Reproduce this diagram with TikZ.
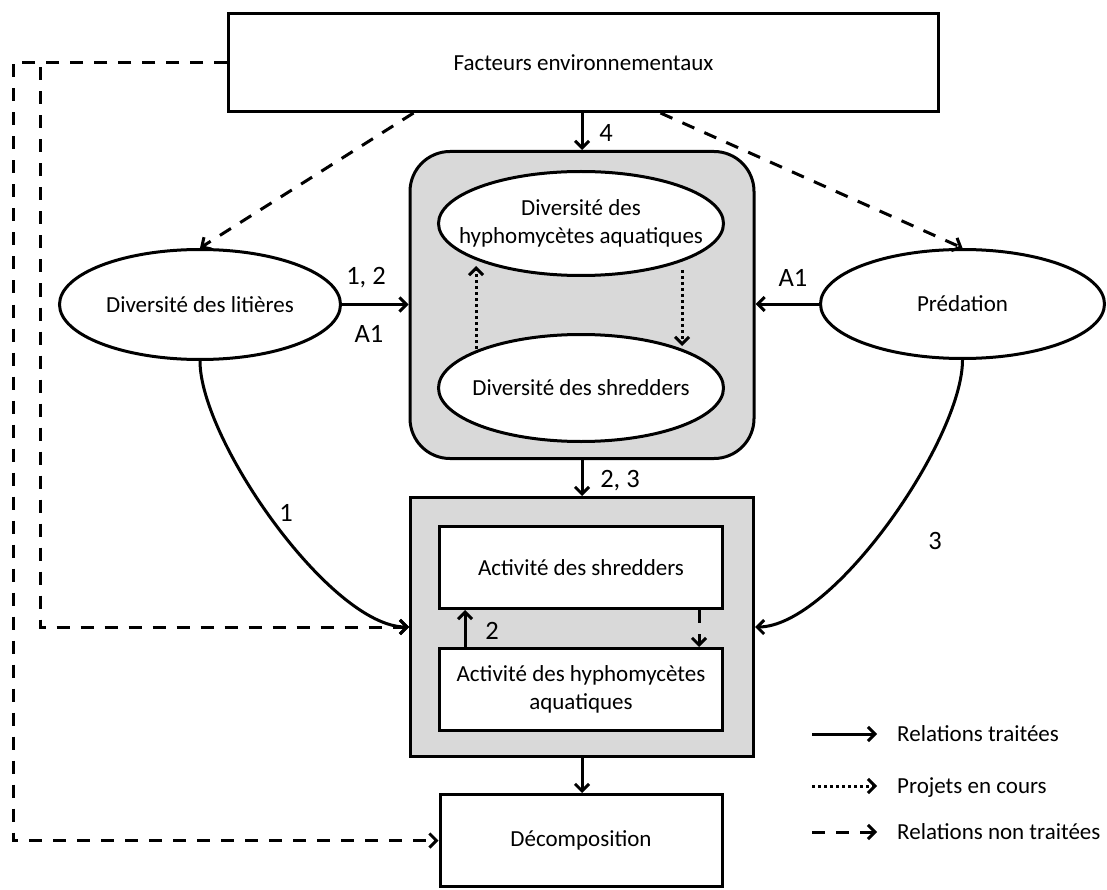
\documentclass[tikz,border=0pt]{standalone}
\usepackage{fontspec}
\setmainfont{Carlito}
\usetikzlibrary{arrows.meta,shapes.geometric}
\definecolor{boxgray}{HTML}{D9D9D9}
\tikzset{
  txt/.style={font=\fontsize{23}{27.5}\selectfont, align=center, inner sep=0pt},
  base/.style={draw, line width=3pt, txt},
  rbox/.style={base, rectangle, fill=white},
  ell/.style={base, ellipse, fill=white},
  grp/.style={base, rectangle, fill=boxgray},
  lbl/.style={font=\fontsize{26.5}{30}\selectfont, inner sep=0pt},
  leg/.style={font=\fontsize{23}{27}\selectfont, inner sep=0pt, anchor=base west},
  solidarrow/.style={line width=3pt, -{Straight Barb[length=7pt,width=14pt]}},
  dashedarrow/.style={solidarrow, dash pattern=on 13pt off 11pt},
  dottedarrow/.style={solidarrow, dash pattern=on 3pt off 3pt},
}
\begin{document}
\begin{tikzpicture}[x=1pt,y=-1pt]
\useasboundingbox (0,0) rectangle (1107,890);

% nodes
\node[rbox, minimum width=710pt, minimum height=98pt] (fact) at (583.5,62.5) {Facteurs environnementaux};
\node[ell, minimum width=281pt, minimum height=110pt] (lit) at (200,304.5) {};
\node[txt] (litT) at (lit.center) {Diversité des litières};
\node[ell, minimum width=284pt, minimum height=109pt] (pred) at (962.5,304) {};
\node[txt] (predT) at (pred.center) {Prédation};
\node[grp, rounded corners=40pt, minimum width=344pt, minimum height=307pt] (div) at (582,305) {};
\node[ell, minimum width=285pt, minimum height=104pt] (hyph) at (581,223.5) {};
\node[txt] (hyphT) at (hyph.center) {Diversité des\\hyphomycètes aquatiques};
\node[ell, minimum width=285pt, minimum height=107pt] (shred) at (581,388) {};
\node[txt] (shredT) at (shred.center) {Diversité des shredders};
\node[grp, minimum width=343pt, minimum height=259pt] (act) at (582,627) {};
\node[rbox, minimum width=283pt, minimum height=82pt] (shA) at (581,567.5) {Activité des shredders};
\node[rbox, minimum width=283pt, minimum height=82pt] (hypA) at (581,689.5) {Activité des hyphomycètes\\aquatiques};
\node[rbox, minimum width=282pt, minimum height=92pt] (dec) at (581,840.5) {Décomposition};

% solid connectors
\draw[solidarrow] (fact.south -| div.north) -- (div.north);
\draw[solidarrow] (lit.east) -- (div.west |- lit.east);
\draw[solidarrow] (pred.west) -- (div.east |- pred.west);
\draw[solidarrow] (div.south) -- (act.north);
\draw[solidarrow] (act.south) -- (act.south |- dec.north);
\draw[solidarrow] (lit.south) .. controls +(0,79) and +(-78,0) .. (act.west);
\draw[solidarrow] (pred.south) .. controls +(0,79) and +(78,0) .. (act.east);
\draw[solidarrow] ([xshift=-116pt]hypA.north) -- ([xshift=-116pt]shA.south);
\draw[dashedarrow] ([xshift=118pt]shA.south) -- ([xshift=118pt]hypA.north);

% dotted inside diversity group
\coordinate (p1) at (476,349);
\coordinate (p2) at (476,266);
\coordinate (p3) at (682,270);
\coordinate (p4) at (682,346);
\draw[dottedarrow] (p1) -- (p2);
\draw[dottedarrow] (p3) -- (p4);

% dashed connectors
\draw[dashedarrow] ([xshift=-170pt]fact.south) -- (lit.north);
\draw[dashedarrow] ([xshift=77pt]fact.south) -- (pred.north);
\coordinate (kin) at (40,0);
\coordinate (kout) at (13,0);
\draw[dashedarrow] (fact.west) -| (kin |- act.west) -- (act.west);
\draw[dashedarrow] (fact.west) -| (kout |- dec.west) -- (dec.west);

% labels
\node[lbl] (l4) at (606,133) {4};
\node[lbl] (l12) at (366,278) {1, 2};
\node[lbl] (lA1a) at (369,334) {A1};
\node[lbl] (lA1b) at (793,278) {A1};
\node[lbl] (l23) at (620,481) {2, 3};
\node[lbl] (l2) at (492,631) {2};
\node[lbl] (l1) at (286,513) {1};
\node[lbl] (l3) at (935,541) {3};

% legend
\coordinate (a1) at (812,734);
\coordinate (b1) at (877,734);
\coordinate (a2) at (812,786);
\coordinate (b2) at (877,786);
\coordinate (a3) at (812,832);
\coordinate (b3) at (877,832);
\draw[solidarrow] (a1) -- (b1);
\draw[dottedarrow] (a2) -- (b2);
\draw[dashedarrow] (a3) -- (b3);
\node[leg] (t1) at (897,741) {Relations traitées};
\node[leg] (t2) at (897,793) {Projets en cours};
\node[leg] (t3) at (897,839) {Relations non traitées};
\end{tikzpicture}
\end{document}
